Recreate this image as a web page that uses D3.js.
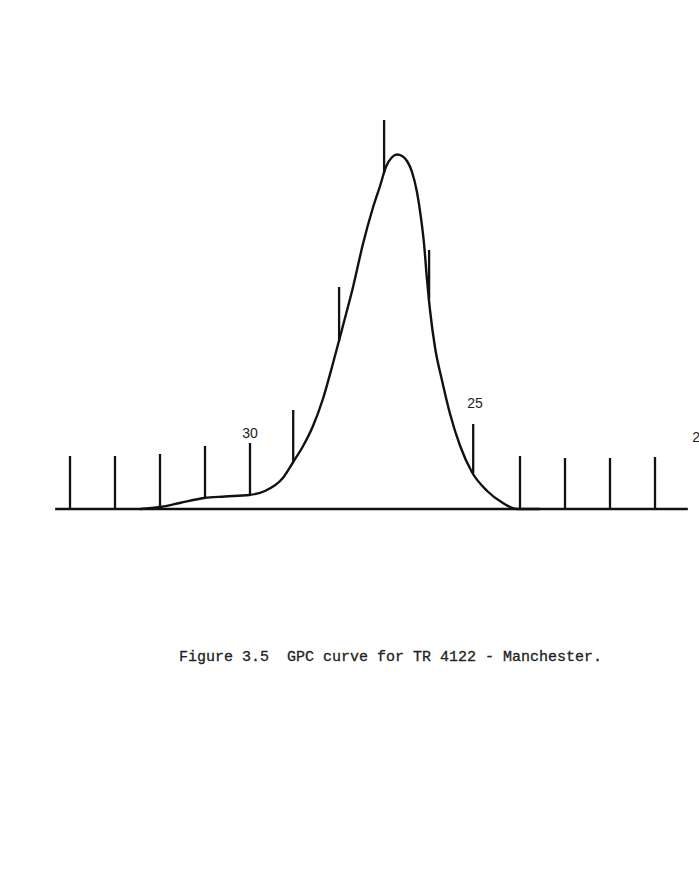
<!DOCTYPE html>
<html>
<head>
<meta charset="utf-8">
<script src="https://cdn.jsdelivr.net/npm/d3@7/dist/d3.min.js"></script>
<style>
  html, body { margin: 0; padding: 0; background: #fff; }
  svg { display: block; }
</style>
</head>
<body>
<script>
// ---- Data (elution volume in counts, detector response in arbitrary units) ----
const curveVolume = [32.44, 32.00, 31.56, 31.02, 30.56, 30.02, 29.67, 29.27, 29.04, 28.82,
                     28.60, 28.38, 28.16, 27.93, 27.71, 27.49, 27.27, 27.11, 26.98, 26.84,
                     26.73, 26.62, 26.51, 26.40, 26.29, 26.20, 26.13, 26.07, 26.00, 25.89,
                     25.73, 25.56, 25.33, 25.07, 24.73, 24.38, 24.07, 23.56];
const curveResponse = [0, 2, 6, 11, 12.5, 14, 18, 31, 47, 63,
                       83, 110, 145, 184, 222, 265, 301, 323, 342, 352,
                       354.5, 353, 348, 337, 317, 291, 264, 231, 199, 162,
                       128, 96, 63, 37, 18, 6, 0, 0];

// Count marks (one per count), where each starts (on the curve) and where it ends
const markVolume = [34, 33, 32, 31, 30, 29.04, 28.02, 27.02, 26.02, 25.04, 24, 23, 22, 21];
const markBase   = [0, 0, 2, 11, 14, 47, 168, 336, 210, 36, 0, 0, 0, 0];
const markTop    = [53, 53, 55, 63, 66, 99, 222, 389, 259, 85, 53, 51, 51, 52];

// Labelled counts
const labelText   = ["30", "25", "20"];
const labelVolume = [30, 25, 20];
const labelLevel  = [71.5, 101, 67];

const baselineExtent = [34.33, 20.27];
const caption = "Figure 3.5  GPC curve for TR 4122 - Manchester.";

// ---- Drawing ----
const W = 699, H = 888;
const svg = d3.select("body").append("svg").attr("width", W).attr("height", H);

const x = d3.scaleLinear().domain([34, 21]).range([70, 655]);
const y = d3.scaleLinear().domain([0, 360]).range([509, 149]);

const ink = "#111";

// baseline
svg.append("line")
  .attr("x1", x(baselineExtent[0])).attr("x2", x(baselineExtent[1]))
  .attr("y1", y(0)).attr("y2", y(0))
  .attr("stroke", ink).attr("stroke-width", 2.4);

// count marks
svg.append("g").selectAll("line")
  .data(markVolume.map((v, i) => ({ v, b: markBase[i], t: markTop[i] })))
  .join("line")
  .attr("x1", d => x(d.v)).attr("x2", d => x(d.v))
  .attr("y1", d => y(d.b)).attr("y2", d => y(d.t))
  .attr("stroke", ink).attr("stroke-width", 2.3);

// curve
const pts = curveVolume.map((v, i) => [x(v), y(curveResponse[i])]);
svg.append("path")
  .attr("d", d3.line().curve(d3.curveMonotoneX)(pts))
  .attr("fill", "none").attr("stroke", ink).attr("stroke-width", 2.4)
  .attr("stroke-linejoin", "round");

// labels
svg.append("g").selectAll("text")
  .data(labelText.map((t, i) => ({ t, v: labelVolume[i], l: labelLevel[i] })))
  .join("text")
  .attr("x", d => x(d.v)).attr("y", d => y(d.l))
  .attr("text-anchor", "middle")
  .attr("font-family", "'Liberation Sans', Arial, sans-serif")
  .attr("font-size", 14)
  .attr("fill", "#222")
  .text(d => d.t);

// caption
svg.append("text")
  .attr("x", 179).attr("y", 661)
  .attr("font-family", "'Liberation Mono', 'Courier New', monospace")
  .attr("font-size", 15)
  .attr("fill", "#222")
  .attr("stroke", "#222").attr("stroke-width", 0.3)
  .attr("xml:space", "preserve")
  .style("white-space", "pre")
  .text(caption);
</script>
</body>
</html>
